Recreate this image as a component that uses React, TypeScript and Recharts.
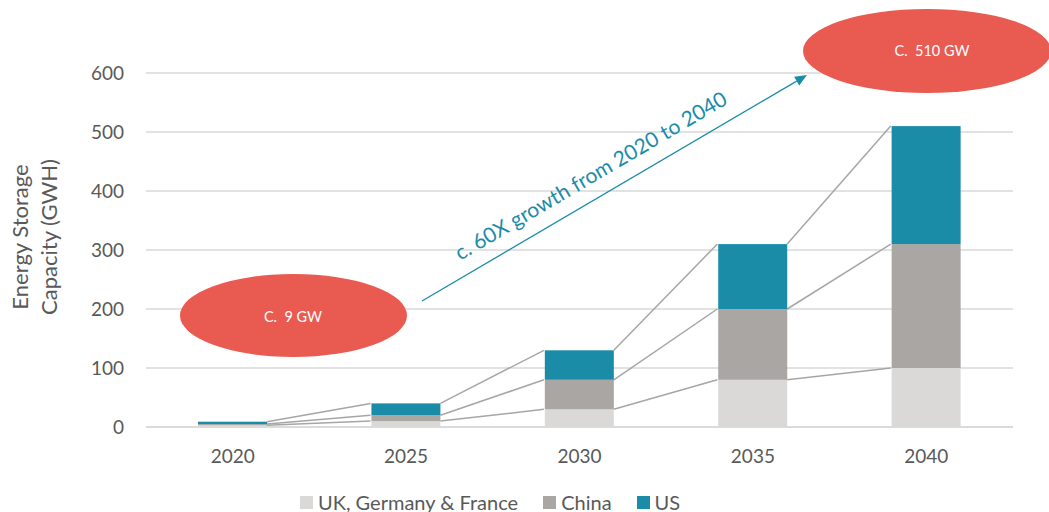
import React from 'react';
import { ComposedChart, Bar, XAxis, YAxis, CartesianGrid, Legend, Customized } from 'recharts';

const years = ['2020', '2025', '2030', '2035', '2040'];
const ukGermanyFrance = [3, 10, 30, 80, 100];
const china = [2, 10, 50, 120, 210];
const us = [4, 20, 50, 110, 200];
const yTicks = [0, 100, 200, 300, 400, 500, 600];
const seriesNames = ['UK, Germany & France', 'China', 'US'];
const seriesKeys = ['uk', 'china', 'us'];
const seriesColors = ['#dad9d7', '#a9a6a3', '#1b8ca8'];
const yAxisLines = ['Energy Storage', 'Capacity (GWH)'];
const startLabel = 'C.  9 GW';
const endLabel = 'C.  510 GW';
const arrowLabel = 'c. 60X growth from 2020 to 2040';

const seriesArrays = [ukGermanyFrance, china, us];
const data = years.map((year, i) => ({ year, uk: ukGermanyFrance[i], china: china[i], us: us[i] }));

const FONT = 'Lato, "Open Sans", sans-serif';
const TEXT = '#595959';
const GRID = '#d9d9d9';
const CONNECT = '#a6a6a6';
const RED = '#e95a50';
const Y_MIN = yTicks[0];
const Y_MAX = yTicks[yTicks.length - 1];
const GAP = 0.3;

const cum = (s: number, i: number) => {
  let t = 0;
  for (let k = 0; k <= s; k++) t += seriesArrays[k][i];
  return t;
};

const makeShape = (s: number) => (props: any) => {
  const { x, y, width, height, index, fill, background } = props;
  let base: number;
  let scale: number;
  if (background && background.height) {
    base = background.y + background.height;
    scale = background.height / (Y_MAX - Y_MIN);
  } else {
    const seg = seriesArrays[s][index];
    scale = height / seg;
    base = y + height + (cum(s, index) - seg) * scale;
  }
  const band = width / (1 - 2 * GAP);
  return (
    <g>
      <rect x={x} y={y} width={width} height={height} fill={fill} />
      {index < years.length - 1 && (
        <line
          x1={x + width}
          y1={base - cum(s, index) * scale}
          x2={x + band}
          y2={base - cum(s, index + 1) * scale}
          stroke={CONNECT}
          strokeWidth={1.5}
        />
      )}
    </g>
  );
};

const Annotations = () => {
  const sx = 422, sy = 301, ex = 807, ey = 75;
  const dx = ex - sx, dy = ey - sy;
  const len = Math.sqrt(dx * dx + dy * dy);
  const ux = dx / len, uy = dy / len;
  const hl = 12, hw = 5;
  const bx = ex - ux * hl, by = ey - uy * hl;
  const px = -uy, py = ux;
  const angle = (Math.atan2(dy, dx) * 180) / Math.PI;
  return (
    <g>
      <ellipse cx={293.5} cy={315.5} rx={113.5} ry={41.5} fill={RED} />
      <text x={293} y={317} dy="0.35em" textAnchor="middle" fill="#fff" fontSize={14.5} fontFamily={FONT} style={{ whiteSpace: 'pre' }}>
        {startLabel}
      </text>
      <ellipse cx={927} cy={51} rx={124} ry={42} fill={RED} />
      <text x={932} y={51} dy="0.35em" textAnchor="middle" fill="#fff" fontSize={14.5} fontFamily={FONT} style={{ whiteSpace: 'pre' }}>
        {endLabel}
      </text>
      <line x1={sx} y1={sy} x2={bx} y2={by} stroke="#1b8ca8" strokeWidth={1.3} />
      <polygon
        points={`${ex},${ey} ${bx + px * hw},${by + py * hw} ${bx - px * hw},${by - py * hw}`}
        fill="#1b8ca8"
      />
      <text
        transform={`translate(591,176) rotate(${angle})`}
        x={0}
        y={7}
        textAnchor="middle"
        fill="#1b8ca8"
        fontSize={21}
        fontFamily={FONT}
      >
        {arrowLabel}
      </text>
    </g>
  );
};

const YLabel = (props: any) => {
  const vb = props.viewBox || { x: 0, y: 73, height: 354 };
  const cy = 237;
  const xs = [vb.x + 28, vb.x + 57];
  return (
    <g>
      {yAxisLines.map((line, i) => (
        <text
          key={i}
          transform={`translate(${xs[i]},${cy}) rotate(-90)`}
          textAnchor="middle"
          fill={TEXT}
          fontSize={22}
          fontFamily={FONT}
        >
          {line}
        </text>
      ))}
    </g>
  );
};

const LegendContent = () => (
  <div
    style={{
      display: 'flex',
      alignItems: 'center',
      height: 28,
      paddingLeft: 300,
      fontFamily: FONT,
      fontSize: 20,
      color: TEXT,
    }}
  >
    {seriesNames.map((n, i) => (
      <div key={n} style={{ display: 'flex', alignItems: 'center', marginRight: 25 }}>
        <span style={{ display: 'inline-block', width: 13, height: 13, background: seriesColors[i], marginRight: 5 }} />
        <span>{n}</span>
      </div>
    ))}
  </div>
);

export default function App() {
  return (
    <div style={{ position: 'absolute', left: 0, top: 0, width: 1049, height: 512, background: '#fff' }}>
      <ComposedChart
        width={1049}
        height={512}
        data={data}
        margin={{ top: 73, right: 36, bottom: 27, left: 0 }}
        barCategoryGap={`${GAP * 100}%`}
        style={{ fontFamily: FONT }}
      >
        <CartesianGrid vertical={false} stroke={GRID} strokeWidth={1.5} />
        <XAxis
          dataKey="year"
          axisLine={{ stroke: GRID, strokeWidth: 1.5 }}
          tickLine={false}
          tickSize={6}
          tickMargin={17}
          height={30}
          tick={{ fill: TEXT, fontSize: 19, fontFamily: FONT }}
        />
        <YAxis
          domain={[Y_MIN, Y_MAX]}
          ticks={yTicks}
          width={146}
          axisLine={false}
          tickLine={false}
          tickSize={6}
          tickMargin={16}
          tick={{ fill: TEXT, fontSize: 19, fontFamily: FONT }}
          label={<YLabel />}
        />
        {seriesKeys.map((k, s) => (
          <Bar
            key={k}
            dataKey={k}
            name={seriesNames[s]}
            stackId="a"
            fill={seriesColors[s]}
            isAnimationActive={false}
            shape={makeShape(s)}
          />
        ))}
        <Customized component={Annotations} />
        <Legend
          verticalAlign="bottom"
          height={28}
          content={<LegendContent />}
          wrapperStyle={{ left: 0, width: 1049, top: 488, bottom: 'auto' }}
        />
      </ComposedChart>
    </div>
  );
}
